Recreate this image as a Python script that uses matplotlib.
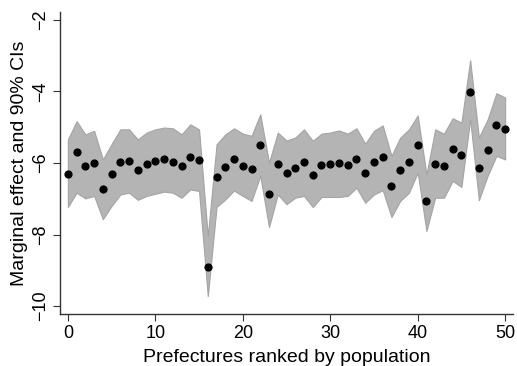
import matplotlib
matplotlib.use('Agg')
import matplotlib.pyplot as plt
import numpy as np

# prefecture rank (0 = largest population)
rank = list(range(51))

# marginal effect point estimates
effect = [-6.32, -5.69, -6.08, -5.99, -6.74, -6.30, -5.97, -5.94, -6.20, -6.04,
          -5.95, -5.90, -5.96, -6.07, -5.82, -5.93, -8.90, -6.39, -6.11, -5.90,
          -6.09, -6.17, -5.50, -6.87, -6.02, -6.27, -6.15, -5.97, -6.33, -6.06,
          -6.04, -6.00, -6.06, -5.90, -6.28, -5.97, -5.82, -6.65, -6.20, -5.97,
          -5.49, -7.07, -6.02, -6.07, -5.62, -5.78, -4.01, -6.14, -5.65, -4.95,
          -5.05]

# upper bound of 90% CI
ci_hi = [-5.34, -4.83, -5.20, -5.10, -5.90, -5.47, -5.06, -5.06, -5.34, -5.15,
         -5.06, -5.01, -5.03, -5.20, -4.92, -5.06, -8.04, -5.48, -5.20, -5.03,
         -5.18, -5.24, -4.64, -5.99, -5.15, -5.37, -5.29, -5.06, -5.38, -5.18,
         -5.15, -5.09, -5.18, -5.03, -5.46, -5.10, -4.95, -5.80, -5.29, -5.06,
         -4.67, -6.32, -5.06, -5.18, -4.75, -4.87, -3.13, -5.29, -4.78, -4.05,
         -4.17]

# lower bound of 90% CI
ci_lo = [-7.23, -6.83, -6.99, -6.92, -7.57, -7.20, -6.88, -6.83, -7.03, -6.92,
         -6.86, -6.80, -6.83, -6.97, -6.74, -6.78, -9.72, -7.23, -7.02, -6.77,
         -6.92, -7.06, -6.36, -7.79, -6.88, -7.15, -6.97, -6.92, -7.23, -6.95,
         -6.95, -6.95, -6.92, -6.69, -7.11, -6.88, -6.76, -7.51, -7.06, -6.83,
         -6.27, -7.90, -6.97, -6.97, -6.50, -6.67, -4.78, -7.04, -6.36, -5.80,
         -5.90]

xticks = [0, 10, 20, 30, 40, 50]
yticks = [-10, -8, -6, -4, -2]

plt.rcParams['font.family'] = ['Liberation Sans', 'DejaVu Sans']

fig = plt.figure(figsize=(5.17, 3.66), dpi=100)
ax = fig.add_axes([60 / 517, 1 - 314 / 366, (513 - 60) / 517, (314 - 12) / 366])

ax.fill_between(rank, ci_lo, ci_hi, color='#b4b4b4', edgecolor='#a4a4a4',
                linewidth=0.8, zorder=1)
ax.scatter(rank, effect, s=24, color='black', zorder=3)

ax.set_xlim(-0.9, 50.9)
ax.set_ylim(-10.22, -1.78)
ax.set_xticks(xticks)
ax.set_yticks(yticks)
ax.set_yticklabels([str(t).replace('-', '\u2212') for t in yticks],
                   rotation=90, va='center')
ax.set_xticklabels([str(t) for t in xticks])

for side in ['top', 'right']:
    ax.spines[side].set_visible(False)
for side in ['left', 'bottom']:
    ax.spines[side].set_linewidth(1.0)
    ax.spines[side].set_color('#333333')
ax.tick_params(axis='both', direction='out', length=5, width=0.8,
               color='#333333', labelsize=13, pad=3)

ax.set_xlabel('Prefectures ranked by population', fontsize=14, labelpad=5)
ax.set_ylabel('Marginal effect and 90% CIs', fontsize=14, labelpad=3)

fig.savefig('out.png', dpi=100)
